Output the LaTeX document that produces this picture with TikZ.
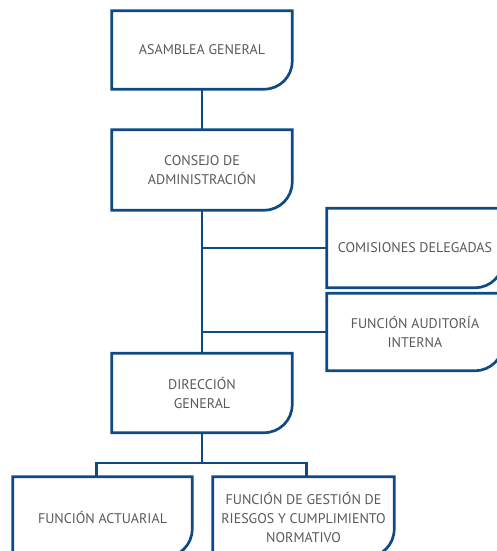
\documentclass[tikz,border=0pt]{standalone}
\usepackage{fontspec}
\setmainfont{PT Sans}
\definecolor{bl}{HTML}{0F4A84}
\definecolor{txt}{HTML}{595959}
\tikzset{
  obox/.style={draw=none, text=txt, align=center, inner sep=0pt,
    font=\fontsize{14}{19}\selectfont},
  outl/.style={draw=bl, line width=2.7pt, line join=miter},
  conn/.style={draw=bl, line width=2.7pt},
}
\newcommand\boxoutline[1]{\draw[outl] (#1.north west) -- (#1.north east) -- ([yshift=28pt]#1.south east) arc[start angle=0,end angle=-90,radius=28pt] -- (#1.south west) -- cycle;}
\begin{document}
\begin{tikzpicture}[x=1pt,y=-1pt]
\useasboundingbox (0,0) rectangle (496,551);
\node[obox, minimum width=180pt, minimum height=78pt] (AG) at (202,50) {ASAMBLEA GENERAL};
\node[obox, minimum width=180pt, minimum height=80pt] (CA) at (202,170) {CONSEJO DE\\ADMINISTRACIÓN};
\node[obox, minimum width=176pt, minimum height=79pt] (CD) at (415,248) {COMISIONES DELEGADAS};
\node[obox, minimum width=176pt, minimum height=77pt] (FAI) at (415,332) {FUNCIÓN AUDITORÍA\\INTERNA};
\node[obox, minimum width=180pt, minimum height=79pt] (DG) at (202,393) {DIRECCIÓN\\GENERAL};
\node[obox, minimum width=179pt, minimum height=80pt] (FA) at (102.5,517) {FUNCIÓN ACTUARIAL};
\node[obox, minimum width=181pt, minimum height=80pt] (FG) at (303.5,517) {FUNCIÓN DE GESTIÓN DE\\RIESGOS Y CUMPLIMIENTO\\NORMATIVO};
\coordinate (j) at (202,463);
\draw[conn] (AG.south) -- (CA.north);
\draw[conn] (CA.south) -- (DG.north);
\draw[conn] (CD.west) -- (CD.west -| CA.south);
\draw[conn] (FAI.west) -- (FAI.west -| CA.south);
\draw[conn] (DG.south) -- (j);
\draw[conn] ([xshift=-6pt]FA.north) |- (j) -| ([xshift=3pt]FG.north);
\boxoutline{AG}
\boxoutline{CA}
\boxoutline{CD}
\boxoutline{FAI}
\boxoutline{DG}
\boxoutline{FA}
\boxoutline{FG}
\end{tikzpicture}
\end{document}
